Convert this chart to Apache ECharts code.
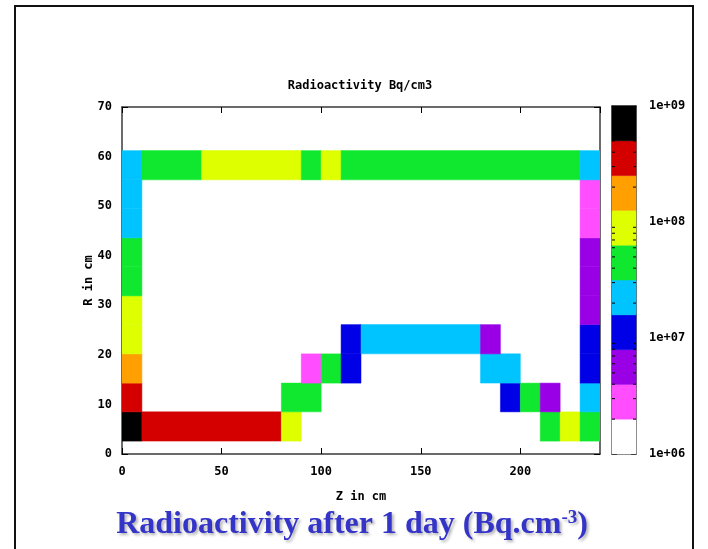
<!DOCTYPE html>
<html>
<head>
<meta charset="utf-8">
<script src="https://cdn.jsdelivr.net/npm/echarts@6/dist/echarts.min.js"></script>
<style>
  html, body { margin: 0; padding: 0; background: #fff; }
  #chart { width: 708px; height: 549px; }
</style>
</head>
<body>
<div id="chart"></div>
<script>
// R edges of the mesh rows (cm), bottom to top
var rowEdges = [2.6, 8.5, 14.3, 20.2, 26.1, 31.9, 37.8, 43.6, 49.5, 55.3, 61.2];

// cells: [z start, z end, row index, activity Bq/cm3]
var cells = [
  [0, 10, 0, 7e8], [10, 80, 0, 3.5e8], [80, 90, 0, 9e7], [210, 220, 0, 4.5e7], [220, 230, 0, 9e7], [230, 240, 0, 4.5e7],
  [0, 10, 1, 3.5e8], [80, 100, 1, 4.5e7], [190, 200, 1, 1.1e7], [200, 210, 1, 4.5e7], [210, 220, 1, 5.6e6], [230, 240, 1, 2.2e7],
  [0, 10, 2, 1.8e8], [90, 100, 2, 2.8e6], [100, 110, 2, 4.5e7], [110, 120, 2, 1.1e7], [180, 200, 2, 2.2e7], [230, 240, 2, 1.1e7],
  [0, 10, 3, 9e7], [110, 120, 3, 1.1e7], [120, 180, 3, 2.2e7], [180, 190, 3, 5.6e6], [230, 240, 3, 1.1e7],
  [0, 10, 4, 9e7], [230, 240, 4, 5.6e6],
  [0, 10, 5, 4.5e7], [230, 240, 5, 5.6e6],
  [0, 10, 6, 4.5e7], [230, 240, 6, 5.6e6],
  [0, 10, 7, 2.2e7], [230, 240, 7, 2.8e6],
  [0, 10, 8, 2.2e7], [230, 240, 8, 2.8e6],
  [0, 10, 9, 2.2e7], [10, 40, 9, 4.5e7], [40, 90, 9, 9e7], [90, 100, 9, 4.5e7], [100, 110, 9, 9e7], [110, 230, 9, 4.5e7], [230, 240, 9, 2.2e7]
];

// palette: band edges as log10(activity), colours low to high
var bandEdges = [6, 6.3, 6.6, 6.9, 7.2, 7.5, 7.8, 8.1, 8.4, 8.7, 9];
var bandColors = ['#ffffff', '#ff4dff', '#9900e6', '#0000e6', '#00c4ff', '#10e830', '#ddff00', '#ffa000', '#d40000', '#000000'];
var cbMinorMult = [2, 3, 4, 5, 6, 7, 8, 9];

(function() {
  var monoFont = '"DejaVu Sans Mono", monospace';
  var border = '#3a3a3a';

  function bandColor(v) {
    var e = Math.log10(v);
    for (var i = 0; i < bandColors.length; i++) {
      if (e < bandEdges[i + 1]) return bandColors[i];
    }
    return bandColors[bandColors.length - 1];
  }

  var cellData = cells.map(function(c) {
    return [c[0], c[1], rowEdges[c[2]], rowEdges[c[2] + 1], c[3]];
  });

  var bandData = bandColors.map(function(col, i) {
    return [0, 1, bandEdges[i], bandEdges[i + 1], i];
  });

  // minor ticks of the log colour scale (2..9 x 10^n)
  var minorData = [];
  for (var n = 6; n < 9; n++) {
    cbMinorMult.forEach(function(k) { minorData.push([n + Math.log10(k)]); });
  }

  var labelStyle = { color: '#000', fontFamily: monoFont, fontWeight: 'bold', fontSize: 12 };
  var axisLine = { onZero: false, lineStyle: { color: border, width: 1.5 } };
  var tick6 = { inside: true, length: 6, lineStyle: { color: '#000' } };
  var tick5 = { inside: true, length: 5, lineStyle: { color: '#000' } };

  var chart = echarts.init(document.getElementById('chart'), null, { renderer: 'canvas' });
  chart.setOption({
    animation: false,
    backgroundColor: '#fff',
    grid: [
      { left: 122, top: 107, width: 478, height: 347 },
      { left: 612, top: 106, width: 24, height: 348 }
    ],
    xAxis: [
      {
        gridIndex: 0, type: 'value', min: 0, max: 240, interval: 50,
        name: 'Z in cm', nameLocation: 'middle', nameGap: 37, nameMoveOverlap: false,
        nameTextStyle: labelStyle,
        axisLine: axisLine, axisTick: tick6,
        axisLabel: Object.assign({ margin: 12, showMaxLabel: false }, labelStyle),
        splitLine: { show: false }
      },
      {
        gridIndex: 0, type: 'value', min: 0, max: 240, interval: 50, position: 'top',
        axisLine: axisLine, axisTick: tick6,
        axisLabel: { show: false }, splitLine: { show: false }
      },
      {
        gridIndex: 1, type: 'value', min: 0, max: 1,
        axisLine: axisLine, axisTick: { show: false },
        axisLabel: { show: false }, splitLine: { show: false }
      },
      {
        gridIndex: 1, type: 'value', min: 0, max: 1, position: 'top',
        axisLine: axisLine, axisTick: { show: false },
        axisLabel: { show: false }, splitLine: { show: false }
      }
    ],
    yAxis: [
      {
        gridIndex: 0, type: 'value', min: 0, max: 70, interval: 10,
        name: 'R in cm', nameLocation: 'middle', nameGap: 27, nameRotate: 90, nameMoveOverlap: false,
        nameTextStyle: labelStyle,
        axisLine: axisLine, axisTick: tick6,
        axisLabel: Object.assign({ margin: 10 }, labelStyle),
        splitLine: { show: false }
      },
      {
        gridIndex: 0, type: 'value', min: 0, max: 70, interval: 10, position: 'right',
        axisLine: axisLine, axisTick: tick6,
        axisLabel: { show: false }, splitLine: { show: false }
      },
      {
        gridIndex: 1, type: 'value', min: 6, max: 9, interval: 1, position: 'left',
        axisLine: axisLine, axisTick: tick5,
        axisLabel: { show: false }, splitLine: { show: false }
      },
      {
        gridIndex: 1, type: 'value', min: 6, max: 9, interval: 1, position: 'right',
        axisLine: axisLine, axisTick: tick5,
        axisLabel: Object.assign({
          margin: 13,
          formatter: function(v) { return '1e+0' + v; }
        }, labelStyle),
        splitLine: { show: false }
      }
    ],
    series: [
      {
        // mesh cells
        type: 'custom', xAxisIndex: 0, yAxisIndex: 0, clip: true,
        encode: { x: [0, 1], y: [2, 3] },
        data: cellData,
        renderItem: function(params, api) {
          var a = api.coord([api.value(0), api.value(3)]);
          var b = api.coord([api.value(1), api.value(2)]);
          var c = bandColor(api.value(4));
          return {
            type: 'rect',
            shape: { x: a[0], y: a[1], width: b[0] - a[0], height: b[1] - a[1] },
            style: { fill: c, stroke: c, lineWidth: 0.5 }
          };
        },
        z: 1
      },
      {
        // colour box bands
        type: 'custom', xAxisIndex: 2, yAxisIndex: 2,
        encode: { x: [0, 1], y: [2, 3] },
        data: bandData,
        renderItem: function(params, api) {
          var a = api.coord([api.value(0), api.value(3)]);
          var b = api.coord([api.value(1), api.value(2)]);
          var c = bandColors[api.value(4)];
          return {
            type: 'rect',
            shape: { x: a[0], y: a[1], width: b[0] - a[0], height: b[1] - a[1] },
            style: { fill: c, stroke: c, lineWidth: 0.5 }
          };
        },
        z: 1
      },
      {
        // minor log ticks on both sides of the colour box
        type: 'custom', xAxisIndex: 2, yAxisIndex: 2,
        encode: { y: 0 },
        data: minorData,
        renderItem: function(params, api) {
          var l = api.coord([0, api.value(0)]);
          var r = api.coord([1, api.value(0)]);
          return {
            type: 'group',
            children: [
              { type: 'line', shape: { x1: l[0], y1: l[1], x2: l[0] + 3, y2: l[1] }, style: { stroke: '#000', lineWidth: 1 } },
              { type: 'line', shape: { x1: r[0] - 3, y1: r[1], x2: r[0], y2: r[1] }, style: { stroke: '#000', lineWidth: 1 } }
            ]
          };
        },
        z: 3
      }
    ],
    graphic: [
      {
        type: 'rect', silent: true,
        shape: { x: 15, y: 6, width: 678, height: 600 },
        style: { fill: 'none', stroke: '#111', lineWidth: 2 }
      },
      {
        type: 'text', x: 360, y: 86,
        style: {
          text: 'Radioactivity Bq/cm3', fill: '#000',
          font: 'bold 12px "DejaVu Sans Mono", monospace',
          align: 'center', verticalAlign: 'middle'
        }
      },
      {
        type: 'text', x: 352, y: 525,
        style: {
          text: '{m|Radioactivity after 1 day (Bq.cm}{s|-3}{m|)}',
          align: 'center', verticalAlign: 'middle',
          rich: {
            m: {
              fontFamily: '"Liberation Serif", serif', fontWeight: 'bold', fontSize: 32, fill: '#3434c8',
              textShadowColor: 'rgba(0,0,0,0.3)', textShadowBlur: 3, textShadowOffsetX: 2, textShadowOffsetY: 2
            },
            s: {
              fontFamily: '"Liberation Serif", serif', fontWeight: 'bold', fontSize: 19, fill: '#3434c8',
              verticalAlign: 'top',
              textShadowColor: 'rgba(0,0,0,0.3)', textShadowBlur: 3, textShadowOffsetX: 2, textShadowOffsetY: 2
            }
          }
        }
      }
    ]
  });
  window.addEventListener('resize', function() { chart.resize(); });
})();
</script>
</body>
</html>
